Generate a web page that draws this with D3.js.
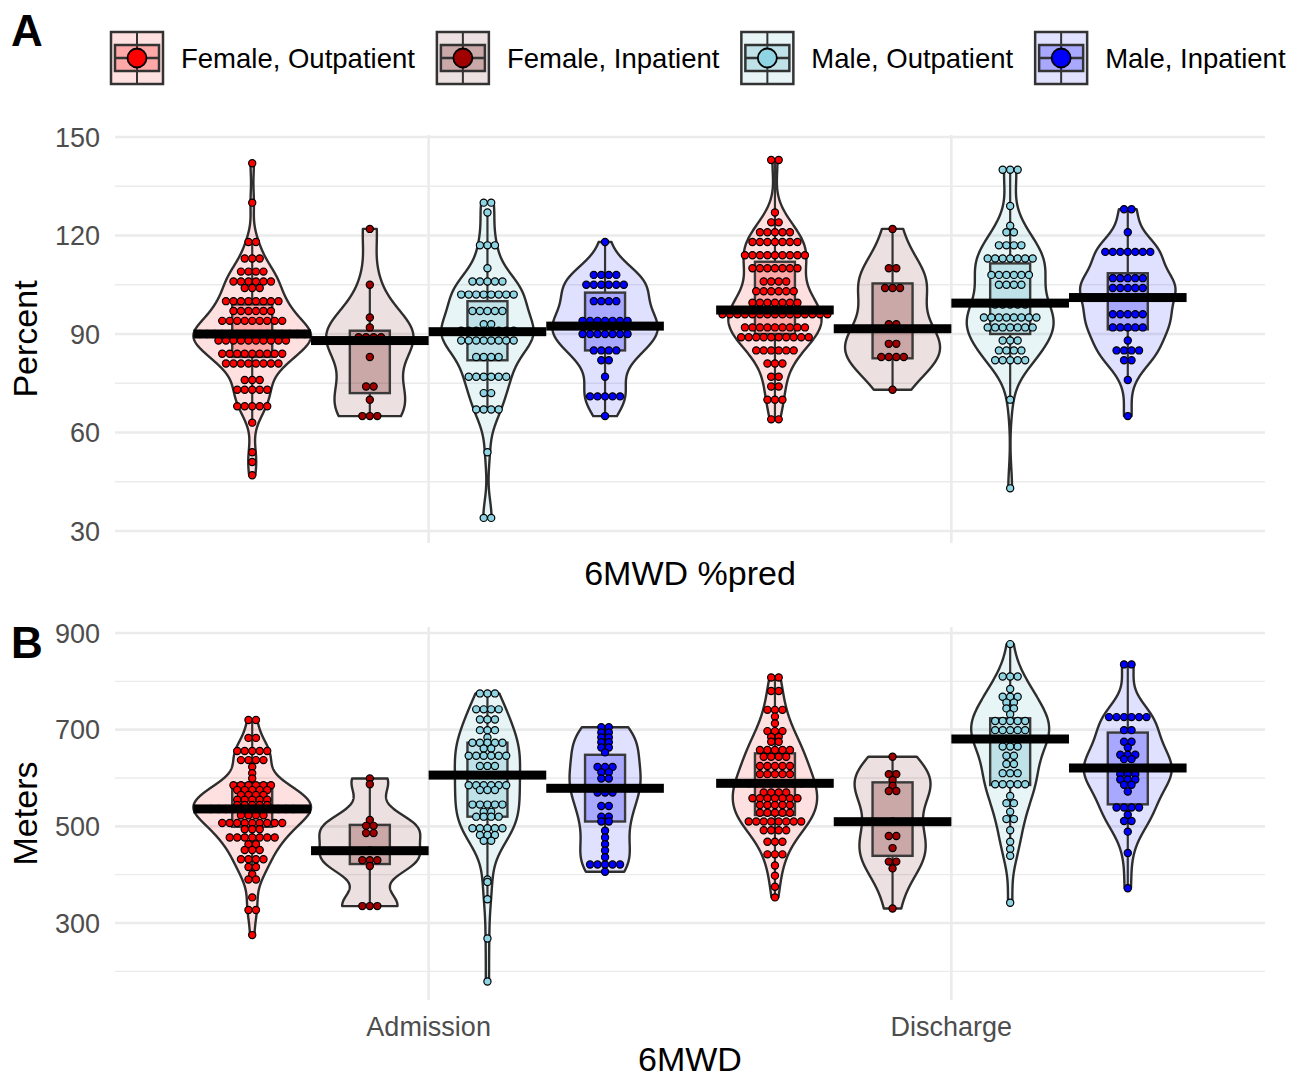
<!DOCTYPE html>
<html>
<head>
<meta charset="utf-8">
<script src="https://cdnjs.cloudflare.com/ajax/libs/d3/7.8.5/d3.min.js"></script>
<style>
  body { margin: 0; background: #fff; }
  svg { display: block; font-family: "Liberation Sans", Arial, Helvetica, sans-serif; }
</style>
</head>
<body>
<div id="chart"></div>
<script>
const TIMEPOINTS = ["Admission", "Discharge"];
const GROUPS = ["Female, Outpatient", "Female, Inpatient", "Male, Outpatient", "Male, Inpatient"];
const DOT_COLORS = ["#ff0000", "#a00000", "#8ed4e2", "#0000ff"];
const FILL_COLORS = ["#ff0000", "#640000", "#3facbc", "#0000ff"];

const PCT_TICKS = [30, 60, 90, 120, 150];
const PCT_MINOR = [45, 75, 105, 135];
const M_TICKS = [300, 500, 700, 900];
const M_MINOR = [200, 400, 600, 800];

// dot bins: [value, number of dots in the row]
// panel A, 6MWD %pred
const pctAdmFO = [[142,1],[130,1],[118,2],[113,3],[109,4],[106,6],[104,3],[100,8],[97,6],[94,9],[90,15],[88,10],[84,9],[81,8],[76,3],[73,5],[68,5],[63,1],[54,1],[51,1],[47,1]];
const pctAdmFI = [[122,1],[105,1],[95,1],[92,1],[89,4],[83,1],[74,2],[70,1],[65,3]];
const pctAdmMO = [[130,2],[127,1],[117,3],[110,1],[106,5],[102,8],[97,5],[93,2],[91,8],[88,8],[83,4],[77,6],[72,2],[67,4],[54,1],[34,2]];
const pctAdmMI = [[118,1],[108,4],[105,6],[100,4],[94,7],[90,7],[85,4],[82,2],[77,1],[71,5],[65,1]];
const pctDisFO = [[143,2],[127,1],[124,2],[121,5],[118,7],[114,9],[110,7],[106,4],[103,6],[99.5,7],[96,15],[92,9],[89,10],[85,6],[81,3],[77,2],[74,2],[70,3],[64,2]];
const pctDisFI = [[122,1],[110,2],[104,3],[93,2],[87,2],[83,4],[73,1]];
const pctDisMO = [[140,3],[129,1],[123,1],[121,2],[117,4],[113,7],[108,6],[105,4],[99,5],[95,8],[92,7],[88,3],[85,4],[82,5],[70,1],[43,1]];
const pctDisMI = [[128,2],[121,1],[115,7],[107,5],[104,5],[101,3],[96,5],[92,5],[88,1],[85,4],[82,2],[76,1],[65,1]];

const pctMedianAdm = [90, 88, 90.7, 92.4];
const pctMedianDis = [97.3, 91.6, 99.4, 101.1];
const pctQ1Adm = [83, 72, 82, 85];
const pctQ3Adm = [99, 91, 100, 102.6];
const pctQ1Dis = [90, 82.6, 90, 91.4];
const pctQ3Dis = [112, 105.4, 111.5, 108.5];

// panel B, 6MWD in meters
const mAdmFO = [[720,2],[683,2],[656,5],[637,4],[623,1],[610,1],[599,1],[585,6],[575,5],[565,4],[555,5],[544,5],[536,12],[523,4],[507,9],[494,3],[477,7],[463,2],[451,3],[432,4],[416,2],[401,1],[390,2],[353,1],[327,2],[275,1]];
const mAdmFI = [[599,1],[587,1],[513,1],[501,2],[486,2],[450,1],[430,3],[418,1],[335,3]];
const mAdmMO = [[775,3],[742,4],[721,3],[699,3],[684,1],[673,5],[661,2],[646,6],[625,3],[606,3],[585,6],[575,3],[545,5],[530,2],[520,4],[496,5],[482,3],[470,2],[390,1],[385,1],[349,1],[268,1],[179,1]];
const mAdmMI = [[705,2],[694,2],[684,2],[674,2],[663,2],[653,1],[623,3],[612,2],[599,2],[579,3],[570,3],[542,2],[520,2],[510,2],[491,1],[477,1],[463,1],[450,1],[436,1],[421,5],[406,1]];
const mDisFO = [[808,2],[780,2],[741,3],[727,1],[713,1],[697,3],[685,2],[675,2],[658,5],[644,4],[625,5],[608,5],[589,8],[570,4],[558,7],[544,5],[528,5],[510,8],[492,4],[468,3],[442,3],[419,1],[398,1],[375,1],[353,1]];
const mDisFI = [[644,1],[608,2],[596,1],[584,1],[573,2],[510,1],[480,2],[455,1],[427,2],[413,1],[330,1]];
const mDisMO = [[877,1],[810,3],[784,1],[768,3],[756,2],[744,2],[732,1],[718,5],[699,5],[681,4],[665,3],[646,2],[629,2],[610,3],[587,5],[563,1],[548,2],[530,1],[515,2],[492,1],[468,1],[453,1],[439,1],[342,1]];
const mDisMI = [[835,2],[726,6],[699,2],[675,2],[663,1],[648,3],[639,2],[621,3],[608,3],[597,3],[586,2],[572,1],[539,4],[524,1],[511,2],[489,1],[445,1],[372,1]];

const mMedianAdm = [536, 449.6, 606, 578.7];
const mMedianDis = [589, 509.6, 680.7, 620.7];
const mQ1Adm = [499, 422, 520, 510];
const mQ3Adm = [589, 503, 673, 648];
const mQ1Dis = [523.5, 439, 585.5, 545.5];
const mQ3Dis = [651, 591, 723.5, 694];

const W = 1298, H = 1077;
const LEFT = 115, RIGHT = 1265;
const DOT_STEP = 7.5;

const svg = d3.select("#chart").append("svg")
  .attr("width", W)
  .attr("height", H);

const x = d3.scalePoint().domain(TIMEPOINTS).range([LEFT, RIGHT]).padding(0.6);
const dodge = d3.scaleBand().domain(GROUPS)
  .range([-0.45 * x.step(), 0.45 * x.step()]);
const bw = dodge.bandwidth();

const panels = [
  {
    y: d3.scaleLinear().domain([26.35, 150.6]).range([543, 135]),
    ticks: PCT_TICKS, minor: PCT_MINOR,
    bins: [[pctAdmFO, pctAdmFI, pctAdmMO, pctAdmMI], [pctDisFO, pctDisFI, pctDisMO, pctDisMI]],
    medians: [pctMedianAdm, pctMedianDis],
    q1: [pctQ1Adm, pctQ1Dis], q3: [pctQ3Adm, pctQ3Dis],
    tag: "A", tagY: 46, yTitle: "Percent", xTitle: "6MWD %pred", xTitleY: 585, xTicks: false
  },
  {
    y: d3.scaleLinear().domain([140.7, 912.4]).range([1000, 627]),
    ticks: M_TICKS, minor: M_MINOR,
    bins: [[mAdmFO, mAdmFI, mAdmMO, mAdmMI], [mDisFO, mDisFI, mDisMO, mDisMI]],
    medians: [mMedianAdm, mMedianDis],
    q1: [mQ1Adm, mQ1Dis], q3: [mQ3Adm, mQ3Dis],
    tag: "B", tagY: 658, yTitle: "Meters", xTitle: "6MWD", xTitleY: 1071, xTicks: true
  }
];

panels.forEach(drawPanel);
drawLegend();

function expand(bins) {
  const out = [];
  bins.forEach(([v, n]) => { for (let i = 0; i < n; i++) out.push(v); });
  return out;
}

// gaussian kde like R's density() with bw.nrd0, trimmed to data range
function kde(values) {
  const s = values.slice().sort(d3.ascending);
  const n = s.length;
  const sd = d3.deviation(s);
  const iqr = d3.quantileSorted(s, 0.75) - d3.quantileSorted(s, 0.25);
  let lo = Math.min(sd, iqr / 1.34);
  if (!(lo > 0)) lo = sd;
  const h = 0.9 * lo * Math.pow(n, -0.2);
  const min = s[0], max = s[n - 1];
  return d3.range(512).map(i => {
    const v = min + (max - min) * i / 511;
    const d = d3.mean(s, u => Math.exp(-0.5 * ((v - u) / h) ** 2)) / (h * Math.sqrt(2 * Math.PI));
    return { v, d };
  });
}

function drawPanel(p) {
  const g = svg.append("g");
  const [yBottom, yTop] = p.y.range();

  // grid
  g.selectAll(".minor").data(p.minor).join("line")
    .attr("x1", LEFT).attr("x2", RIGHT)
    .attr("y1", d => p.y(d)).attr("y2", d => p.y(d))
    .attr("stroke", "#ebebeb").attr("stroke-width", 1.4);
  g.selectAll(".major").data(p.ticks).join("line")
    .attr("x1", LEFT).attr("x2", RIGHT)
    .attr("y1", d => p.y(d)).attr("y2", d => p.y(d))
    .attr("stroke", "#ebebeb").attr("stroke-width", 2.6);
  g.selectAll(".vgrid").data(TIMEPOINTS).join("line")
    .attr("x1", d => x(d)).attr("x2", d => x(d))
    .attr("y1", yTop).attr("y2", yBottom)
    .attr("stroke", "#ebebeb").attr("stroke-width", 2.6);

  // y tick labels
  g.selectAll(".ytick").data(p.ticks).join("text")
    .attr("x", 100).attr("y", d => p.y(d)).attr("dy", "0.36em")
    .attr("text-anchor", "end")
    .attr("font-size", 27).attr("fill", "#4d4d4d")
    .text(d => d);

  if (p.xTicks) {
    g.selectAll(".xtick").data(TIMEPOINTS).join("text")
      .attr("x", d => x(d)).attr("y", 1036)
      .attr("text-anchor", "middle")
      .attr("font-size", 27).attr("fill", "#4d4d4d")
      .text(d => d);
  }

  // titles
  g.append("text")
    .attr("transform", `translate(37,${(yTop + yBottom) / 2}) rotate(-90)`)
    .attr("text-anchor", "middle").attr("font-size", 34).attr("fill", "#000")
    .text(p.yTitle);
  g.append("text")
    .attr("x", (LEFT + RIGHT) / 2).attr("y", p.xTitleY)
    .attr("text-anchor", "middle").attr("font-size", 34).attr("fill", "#000")
    .text(p.xTitle);
  g.append("text")
    .attr("x", 11).attr("y", p.tagY)
    .attr("font-size", 44).attr("font-weight", "bold").attr("fill", "#000")
    .text(p.tag);

  // build items
  const items = [];
  TIMEPOINTS.forEach((t, ti) => {
    GROUPS.forEach((grp, gi) => {
      const values = expand(p.bins[ti][gi]);
      const q1 = p.q1[ti][gi], q3 = p.q3[ti][gi];
      const iqr = q3 - q1;
      items.push({
        gi, values,
        bins: p.bins[ti][gi],
        cx: x(t) + dodge(grp) + bw / 2,
        dens: kde(values),
        q1, q3, med: p.medians[ti][gi],
        wLo: d3.min(values.filter(v => v >= q1 - 1.5 * iqr)),
        wHi: d3.max(values.filter(v => v <= q3 + 1.5 * iqr))
      });
    });
  });
  const maxD = d3.max(items, it => d3.max(it.dens, d => d.d));

  // violins (scale = "area")
  const line = d3.line().x(d => d[0]).y(d => d[1]);
  g.selectAll(".violin").data(items).join("path")
    .attr("d", it => {
      const half = d => d.d / maxD * bw / 2;
      const left = it.dens.map(d => [it.cx - half(d), p.y(d.v)]);
      const right = it.dens.slice().reverse().map(d => [it.cx + half(d), p.y(d.v)]);
      return line(left.concat(right)) + "Z";
    })
    .attr("fill", it => FILL_COLORS[it.gi]).attr("fill-opacity", 0.12)
    .attr("stroke", "#2e2e2e").attr("stroke-width", 2.4).attr("stroke-linejoin", "round");

  // boxplots
  const boxW = 40;
  const box = g.selectAll(".box").data(items).join("g");
  box.append("line")
    .attr("x1", it => it.cx).attr("x2", it => it.cx)
    .attr("y1", it => p.y(it.wHi)).attr("y2", it => p.y(it.q3))
    .attr("stroke", "#333").attr("stroke-width", 2.2);
  box.append("line")
    .attr("x1", it => it.cx).attr("x2", it => it.cx)
    .attr("y1", it => p.y(it.q1)).attr("y2", it => p.y(it.wLo))
    .attr("stroke", "#333").attr("stroke-width", 2.2);
  box.append("rect")
    .attr("x", it => it.cx - boxW / 2).attr("width", boxW)
    .attr("y", it => p.y(it.q3)).attr("height", it => p.y(it.q1) - p.y(it.q3))
    .attr("fill", it => FILL_COLORS[it.gi]).attr("fill-opacity", 0.25)
    .attr("stroke", "#3a3a3a").attr("stroke-width", 2.4);
  box.append("line")
    .attr("x1", it => it.cx - boxW / 2).attr("x2", it => it.cx + boxW / 2)
    .attr("y1", it => p.y(it.med)).attr("y2", it => p.y(it.med))
    .attr("stroke", "#3a3a3a").attr("stroke-width", 3);

  // dots, stacked centred per row
  const dots = [];
  items.forEach(it => {
    it.bins.forEach(([v, n]) => {
      for (let k = 0; k < n; k++) {
        dots.push({ gi: it.gi, v, dx: it.cx + (k - (n - 1) / 2) * DOT_STEP });
      }
    });
  });
  g.selectAll(".dot").data(dots).join("circle")
    .attr("cx", d => d.dx).attr("cy", d => p.y(d.v)).attr("r", 3.6)
    .attr("fill", d => DOT_COLORS[d.gi])
    .attr("stroke", "#000").attr("stroke-width", 1.2);

  // median bars
  g.selectAll(".bar").data(items).join("rect")
    .attr("x", it => it.cx - bw / 2).attr("width", bw)
    .attr("y", it => p.y(it.med) - 4.5).attr("height", 9)
    .attr("fill", "#000");
}

function drawLegend() {
  const key = 52, top = 32;
  let xPos = 111;
  GROUPS.forEach((grp, gi) => {
    const k = svg.append("g").attr("transform", `translate(${xPos},${top})`);
    k.append("rect").attr("width", key).attr("height", key).attr("fill", "#fff");
    k.append("rect").attr("width", key).attr("height", key)
      .attr("fill", FILL_COLORS[gi]).attr("fill-opacity", 0.12)
      .attr("stroke", "#333").attr("stroke-width", 2.5);
    k.append("line").attr("x1", key / 2).attr("x2", key / 2).attr("y1", 0).attr("y2", key)
      .attr("stroke", "#333").attr("stroke-width", 2);
    k.append("rect").attr("x", 4).attr("y", 13).attr("width", key - 8).attr("height", key - 26)
      .attr("fill", FILL_COLORS[gi]).attr("fill-opacity", 0.25)
      .attr("stroke", "#333").attr("stroke-width", 2.5);
    k.append("line").attr("x1", 4).attr("x2", key - 4).attr("y1", key / 2).attr("y2", key / 2)
      .attr("stroke", "#333").attr("stroke-width", 2.5);
    k.append("circle").attr("cx", key / 2).attr("cy", key / 2).attr("r", 9.5)
      .attr("fill", DOT_COLORS[gi]).attr("stroke", "#000").attr("stroke-width", 1.8);
    const txt = svg.append("text")
      .attr("x", xPos + key + 18).attr("y", top + key / 2).attr("dy", "0.36em")
      .attr("font-size", 27.5).attr("fill", "#000")
      .text(grp);
    xPos += key + 18 + txt.node().getComputedTextLength() + 22;
  });
}
</script>
</body>
</html>
